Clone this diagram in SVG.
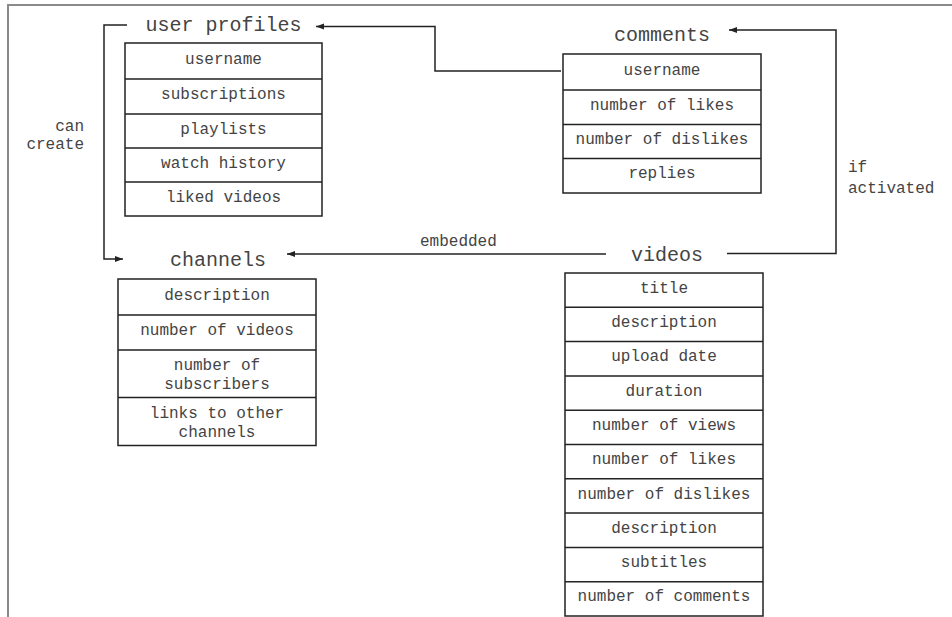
<svg xmlns="http://www.w3.org/2000/svg" width="952" height="617" viewBox="0 0 952 617">
<defs>
<style>
.t{font-family:"Liberation Mono","Courier New",monospace;fill:#444;text-anchor:middle}
.title{font-size:20px}
.cell{font-size:16px}
.lbl{font-family:"Liberation Mono","Courier New",monospace;fill:#444;font-size:16px}
.box{fill:#fff;stroke:#222;stroke-width:1.5}
.row{stroke:#222;stroke-width:1.5}
.con{fill:none;stroke:#222;stroke-width:1.5}
</style>
<marker id="ah" markerUnits="userSpaceOnUse" markerWidth="9" markerHeight="7" refX="8" refY="3" orient="auto">
<path d="M0,0 L8,3 L0,6 z" fill="#222"/>
</marker>
</defs>
<rect width="952" height="617" fill="#fff"/>
<path d="M8 617 V5 H952" fill="none" stroke="#8a8a8a" stroke-width="2"/>

<g id="connectors">
<path class="con" d="M561 71 H435 V26.5 H316" marker-end="url(#ah)"/>
<path class="con" d="M127 25 H104 V259 H123" marker-end="url(#ah)"/>
<path class="con" d="M606 254 H287" marker-end="url(#ah)"/>
<path class="con" d="M727 253.5 H836 V30 H729" marker-end="url(#ah)"/>
<text class="lbl" x="84" y="131" text-anchor="end">can</text>
<text class="lbl" x="84" y="149" text-anchor="end">create</text>
<text class="lbl" x="420" y="246">embedded</text>
<text class="lbl" x="848" y="172">if</text>
<text class="lbl" x="848" y="193">activated</text>
</g>

<g id="user-profiles">
<text class="t title" x="223.5" y="31">user profiles</text>
<rect class="box" x="125" y="43" width="197" height="173"/>
<path class="row" d="M125 79H322M125 114H322M125 148H322M125 182H322"/>
<text class="t cell" x="223.5" y="63.5">username</text>
<text class="t cell" x="223.5" y="99">subscriptions</text>
<text class="t cell" x="223.5" y="133.5">playlists</text>
<text class="t cell" x="223.5" y="167.5">watch history</text>
<text class="t cell" x="223.5" y="201.5">liked videos</text>
</g>

<g id="comments">
<text class="t title" x="662" y="41">comments</text>
<rect class="box" x="563" y="54" width="198" height="139"/>
<path class="row" d="M563 90H761M563 124.5H761M563 158.5H761"/>
<text class="t cell" x="662" y="74.5">username</text>
<text class="t cell" x="662" y="110">number of likes</text>
<text class="t cell" x="662" y="144">number of dislikes</text>
<text class="t cell" x="662" y="178">replies</text>
</g>

<g id="channels">
<text class="t title" x="218" y="266">channels</text>
<rect class="box" x="118" y="279" width="198" height="166.5"/>
<path class="row" d="M118 315H316M118 350H316M118 397.5H316"/>
<text class="t cell" x="217" y="299.5">description</text>
<text class="t cell" x="217" y="335">number of videos</text>
<text class="t cell" x="217" y="369.5">number of</text>
<text class="t cell" x="217" y="388.5">subscribers</text>
<text class="t cell" x="217" y="417.5">links to other</text>
<text class="t cell" x="217" y="436.5">channels</text>
</g>

<g id="videos">
<text class="t title" x="667" y="261">videos</text>
<rect class="box" x="565" y="273" width="198" height="343"/>
<path class="row" d="M565 307.3H763M565 341.6H763M565 375.9H763M565 410.2H763M565 444.5H763M565 478.8H763M565 513.1H763M565 547.4H763M565 581.7H763"/>
<text class="t cell" x="664" y="292.6">title</text>
<text class="t cell" x="664" y="327">description</text>
<text class="t cell" x="664" y="361.2">upload date</text>
<text class="t cell" x="664" y="395.5">duration</text>
<text class="t cell" x="664" y="429.8">number of views</text>
<text class="t cell" x="664" y="464.2">number of likes</text>
<text class="t cell" x="664" y="498.5">number of dislikes</text>
<text class="t cell" x="664" y="532.8">description</text>
<text class="t cell" x="664" y="567">subtitles</text>
<text class="t cell" x="664" y="601.4">number of comments</text>
</g>
</svg>
